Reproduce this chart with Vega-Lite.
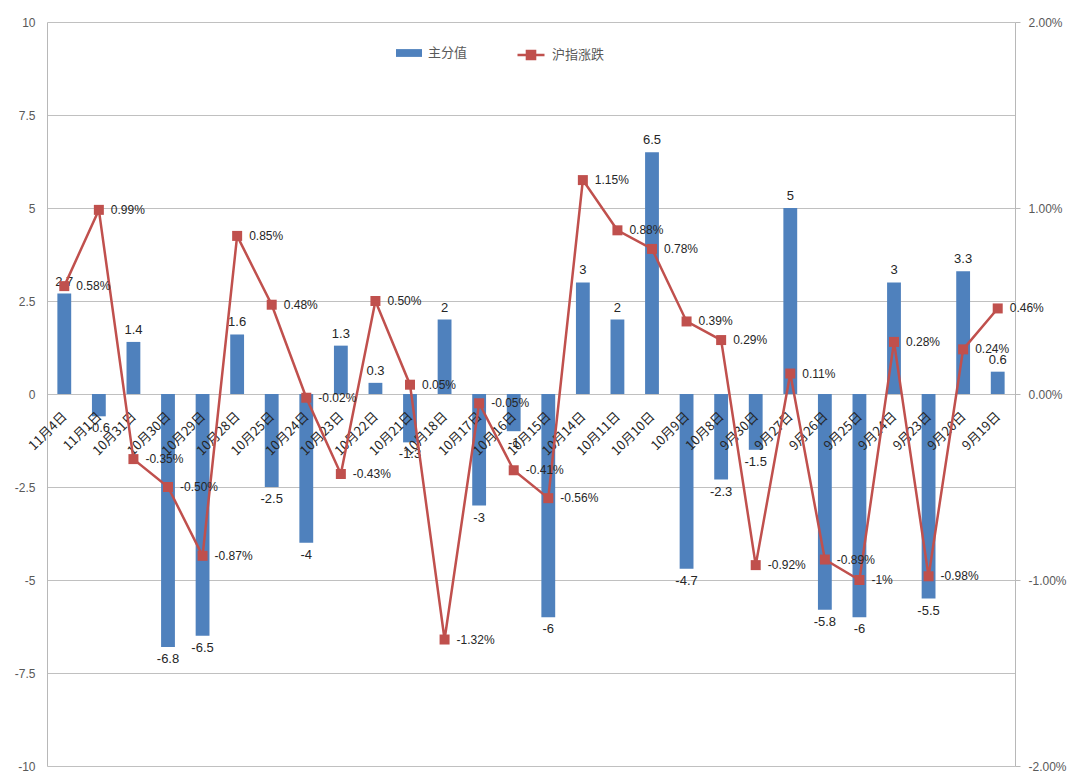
{
  "$schema": "https://vega.github.io/schema/vega-lite/v6.json",
  "width": 968,
  "height": 744,
  "autosize": "none",
  "padding": {"left": 47, "top": 22, "right": 65, "bottom": 17},
  "background": "white",
  "config": {
    "view": {"stroke": null},
    "font": "Liberation Sans",
    "axis": {"labelFont": "Liberation Sans", "labelFontSize": 12, "labelColor": "#595959"}
  },
  "data": {
    "values": [
      {"d": "11月4日", "v": 2.7, "p": 0.58, "pl": "0.58%"},
      {"d": "11月1日", "v": -0.6, "p": 0.99, "pl": "0.99%"},
      {"d": "10月31日", "v": 1.4, "p": -0.35, "pl": "-0.35%"},
      {"d": "10月30日", "v": -6.8, "p": -0.50, "pl": "-0.50%"},
      {"d": "10月29日", "v": -6.5, "p": -0.87, "pl": "-0.87%"},
      {"d": "10月28日", "v": 1.6, "p": 0.85, "pl": "0.85%"},
      {"d": "10月25日", "v": -2.5, "p": 0.48, "pl": "0.48%"},
      {"d": "10月24日", "v": -4, "p": -0.02, "pl": "-0.02%"},
      {"d": "10月23日", "v": 1.3, "p": -0.43, "pl": "-0.43%"},
      {"d": "10月22日", "v": 0.3, "p": 0.50, "pl": "0.50%"},
      {"d": "10月21日", "v": -1.3, "p": 0.05, "pl": "0.05%"},
      {"d": "10月18日", "v": 2, "p": -1.32, "pl": "-1.32%"},
      {"d": "10月17日", "v": -3, "p": -0.05, "pl": "-0.05%"},
      {"d": "10月16日", "v": -1, "p": -0.41, "pl": "-0.41%"},
      {"d": "10月15日", "v": -6, "p": -0.56, "pl": "-0.56%"},
      {"d": "10月14日", "v": 3, "p": 1.15, "pl": "1.15%"},
      {"d": "10月11日", "v": 2, "p": 0.88, "pl": "0.88%"},
      {"d": "10月10日", "v": 6.5, "p": 0.78, "pl": "0.78%"},
      {"d": "10月9日", "v": -4.7, "p": 0.39, "pl": "0.39%"},
      {"d": "10月8日", "v": -2.3, "p": 0.29, "pl": "0.29%"},
      {"d": "9月30日", "v": -1.5, "p": -0.92, "pl": "-0.92%"},
      {"d": "9月27日", "v": 5, "p": 0.11, "pl": "0.11%"},
      {"d": "9月26日", "v": -5.8, "p": -0.89, "pl": "-0.89%"},
      {"d": "9月25日", "v": -6, "p": -1.0, "pl": "-1%"},
      {"d": "9月24日", "v": 3, "p": 0.28, "pl": "0.28%"},
      {"d": "9月23日", "v": -5.5, "p": -0.98, "pl": "-0.98%"},
      {"d": "9月20日", "v": 3.3, "p": 0.24, "pl": "0.24%"},
      {"d": "9月19日", "v": 0.6, "p": 0.46, "pl": "0.46%"}
    ]
  },
  "encoding": {
    "x": {"field": "d", "type": "nominal", "sort": null,
          "scale": {"paddingInner": 0.6, "paddingOuter": 0.3}, "axis": null}
  },
  "layer": [
    {
      "encoding": {
        "y": {"type": "quantitative", "scale": {"domain": [-10, 10], "nice": false, "zero": false},
              "axis": {"orient": "left", "title": null, "values": [-10, -7.5, -5, -2.5, 0, 2.5, 5, 7.5, 10],
                       "grid": true, "gridColor": "#C0C0C0", "gridWidth": 1, "domainColor": "#B8B8B8",
                       "ticks": false, "labelPadding": 12, "labelFontSize": 12,
                       "labelExpr": "datum.value + ''"}}
      },
      "layer": [
        {
          "mark": {"type": "bar", "color": "#4F81BD"},
          "encoding": {
            "y": {"field": "v"},
            "y2": {"datum": 0},
            "fill": {"datum": "主分值", "type": "nominal",
                     "scale": {"range": ["#4F81BD"]},
                     "legend": {"title": null, "orient": "none", "legendX": 349, "legendY": 18,
                                "symbolType": "M-1,-0.3H1V0.3H-1Z", "symbolSize": 676,
                                "symbolStrokeWidth": 0, "labelFont": "Noto Sans CJK SC",
                                "labelFontSize": 13, "labelColor": "#595959", "labelOffset": 6}}
          }
        },
        {
          "transform": [{"filter": "datum.v >= 0"}],
          "mark": {"type": "text", "baseline": "bottom", "dy": -5, "fontSize": 13, "color": "#262626"},
          "encoding": {"y": {"field": "v"}, "text": {"field": "v", "type": "nominal"}}
        },
        {
          "transform": [{"filter": "datum.v < 0"}],
          "mark": {"type": "text", "baseline": "top", "dy": 6, "fontSize": 13, "color": "#262626"},
          "encoding": {"y": {"field": "v"}, "text": {"field": "v", "type": "nominal"}}
        },
        {
          "mark": {"type": "text", "angle": -45, "align": "right", "baseline": "middle",
                   "font": "Noto Sans CJK SC", "fontSize": 13, "color": "#262626", "dx": -14, "dy": 15},
          "encoding": {"y": {"datum": 0}, "text": {"field": "d", "type": "nominal"}}
        }
      ]
    },
    {
      "encoding": {
        "y": {"type": "quantitative", "scale": {"domain": [-2, 2], "nice": false, "zero": false},
              "axis": {"orient": "right", "title": null, "values": [-2, -1, 0, 1, 2], "grid": false,
                       "domainColor": "#B8B8B8", "tickColor": "#B8B8B8", "tickSize": 5,
                       "labelPadding": 8, "labelFontSize": 12,
                       "labelExpr": "replace(format(datum.value, '.2f'), '\u2212', '-') + '%'"}}
      },
      "layer": [
        {
          "mark": {"type": "line", "color": "#C0504D", "strokeWidth": 2.5},
          "encoding": {
            "y": {"field": "p"},
            "stroke": {"datum": "沪指涨跌", "type": "nominal",
                       "scale": {"range": ["#C0504D"]},
                       "legend": {"title": null, "orient": "none", "legendX": 469, "legendY": 18,
                                  "symbolType": "M-1,0H1M-0.3,-0.3H0.3V0.3H-0.3Z", "symbolSize": 729,
                                  "symbolFillColor": "#C0504D", "symbolStrokeColor": "#C0504D",
                                  "symbolStrokeWidth": 2.5, "labelFont": "Noto Sans CJK SC",
                                  "labelFontSize": 13, "labelColor": "#595959", "labelOffset": 6}}
          }
        },
        {
          "mark": {"type": "square", "color": "#C0504D", "opacity": 1, "filled": true, "size": 100},
          "encoding": {"y": {"field": "p"}}
        },
        {
          "mark": {"type": "text", "align": "left", "baseline": "middle", "dx": 12, "fontSize": 12, "color": "#262626"},
          "encoding": {"y": {"field": "p"}, "text": {"field": "pl", "type": "nominal"}}
        }
      ]
    }
  ],
  "resolve": {"scale": {"y": "independent", "fill": "independent", "stroke": "independent"}}
}
